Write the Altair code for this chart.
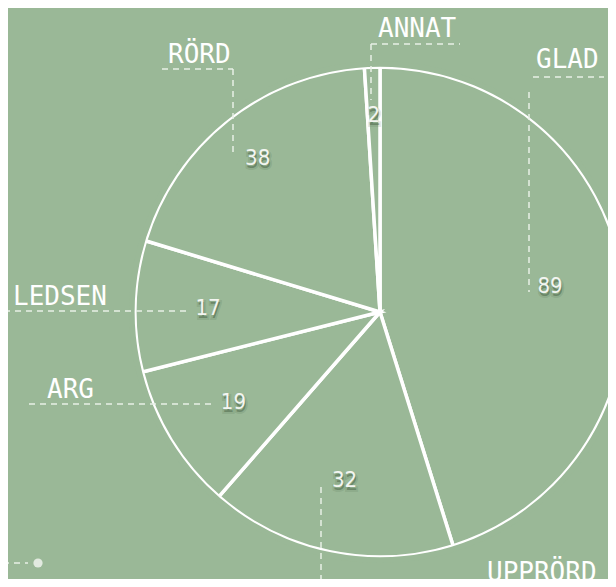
import altair as alt
import pandas as pd

# ---- data ----
labels = ["GLAD", "UPPRÖRD", "ARG", "LEDSEN", "RÖRD", "ANNAT"]
counts = [89, 32, 19, 17, 38, 2]

# ---- layout (view pixels) ----
BG = "#9ab897"
W, H = 600, 571
CX, CY, R = 372, 304, 245
LINE = "#e8efe6"
NAMEFONT = "DejaVu Sans Mono"
NUMFONT = "Liberation Sans Narrow, DejaVu Sans Condensed, Roboto, sans-serif"

name_x = [528, 479, 39, 5, 160, 370]
name_y = [60, 573, 390, 297, 55, 29]

seg_x = [154, 225, 363, 363, 525, 521, -4, 21, 313, -5]
seg_y = [61, 61, 36, 36, 69, 84, 303, 396, 479, 555]
seg_x2 = [225, 225, 452, 363, 596, 521, 182, 205, 313, 20]
seg_y2 = [61, 149, 36, 92, 69, 284, 303, 396, 590, 555]

df = pd.DataFrame({"label": labels, "count": counts, "idx": list(range(len(labels)))})
names = pd.DataFrame({"label": labels, "x": name_x, "y": name_y})
segs = pd.DataFrame({"x": seg_x, "y": seg_y, "x2": seg_x2, "y2": seg_y2})
dot = pd.DataFrame({"x": [30], "y": [555]})

xs = alt.Scale(domain=[0, W], range=[0, W], nice=False, zero=False)
ys = alt.Scale(domain=[0, H], range=[0, H], nice=False, zero=False)
ts = alt.Scale(domain=[0, sum(counts)], range=[0, 6.283185307179586], nice=False, zero=True)

order = alt.Order("idx:Q")

pie = alt.Chart(df).mark_arc(
    outerRadius=R, fill=BG, stroke="white", strokeWidth=3.5, x=CX, y=CY, clip=True
).encode(theta=alt.Theta("count:Q", stack=True, scale=ts), order=order)

ring = alt.Chart(pd.DataFrame({"a": [0]})).mark_arc(
    theta=0, theta2=6.2832, innerRadius=R + 0.3, outerRadius=R + 6,
    fill=BG, strokeWidth=0, x=CX, y=CY, clip=True
).encode(opacity=alt.value(1))

rules = alt.Chart(segs).mark_rule(
    stroke=LINE, strokeWidth=1.5, strokeDash=[6, 5], clip=True
).encode(
    x=alt.X("x:Q", scale=xs, axis=None),
    y=alt.Y("y:Q", scale=ys, axis=None),
    x2="x2:Q", y2="y2:Q",
)

dotl = alt.Chart(dot).mark_point(
    filled=True, shape="circle", size=85, color="#e2eae0", opacity=1, clip=True
).encode(x=alt.X("x:Q", scale=xs, axis=None), y=alt.Y("y:Q", scale=ys, axis=None))

namel = alt.Chart(names).mark_text(
    align="left", baseline="alphabetic", font=NAMEFONT, fontSize=26, fill="white", clip=True
).encode(
    x=alt.X("x:Q", scale=xs, axis=None),
    y=alt.Y("y:Q", scale=ys, axis=None),
    text="label:N",
)

base = alt.Chart(df).transform_window(
    cum="sum(count)", sort=[alt.SortField("idx")], frame=[None, 0]
).transform_calculate(
    mid="datum.cum - datum.count / 2",
    r="datum.idx >= 4 ? 197 : 172",
)
enc = dict(
    theta=alt.Theta("mid:Q", stack=None, scale=ts),
    radius=alt.Radius("r:Q", scale=None),
    text="count:Q",
)

shadow = base.mark_text(
    font=NUMFONT, fontSize=22, fill="#3f5a3c", fillOpacity=0.45,
    stroke="#3f5a3c", strokeWidth=4, strokeOpacity=0.15,
    x=CX + 1, y=CY + 3, align="center", baseline="middle"
).encode(**enc)

vals = base.mark_text(
    font=NUMFONT, fontSize=22, fill="#f3f5f1",
    x=CX, y=CY, align="center", baseline="middle"
).encode(**enc)

chart = alt.layer(pie, ring, rules, dotl, namel, shadow, vals).properties(
    width=W, height=H, background=BG, padding=0,
    autosize=alt.AutoSizeParams(type="none"),
).configure_view(stroke=None)

chart.save("out.html", embed_options={"renderer": "svg", "actions": False})
